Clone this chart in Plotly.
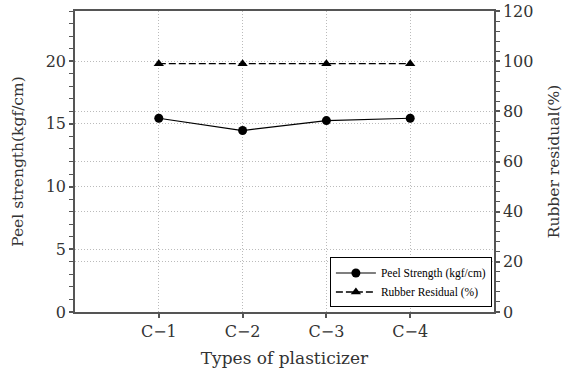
import plotly.graph_objects as go

categories = ["C\u22121", "C\u22122", "C\u22123", "C\u22124"]
peel_strength = [15.45, 14.47, 15.26, 15.45]
rubber_residual = [99.0, 99.0, 99.0, 99.0]

FONT = "DejaVu Serif"
LFONT = "Liberation Serif"
TXT = "#333333"
AX = "#555555"
GRID = "#bbbbbb"

fig = go.Figure()
fig.add_trace(go.Scatter(
    x=categories, y=peel_strength, name="Peel Strength (kgf/cm)",
    mode="lines+markers", line=dict(color="black", width=1.2),
    marker=dict(symbol="circle", size=9, color="black"), yaxis="y"))
fig.add_trace(go.Scatter(
    x=categories, y=rubber_residual, name="Rubber Residual (%)",
    mode="lines+markers", line=dict(color="black", width=1.3, dash="7px,3px"),
    marker=dict(symbol="triangle-up", size=9, color="black"), yaxis="y2"))

fig.update_layout(
    width=563, height=374,
    margin=dict(l=75, r=69, t=11, b=62, autoexpand=False),
    paper_bgcolor="white", plot_bgcolor="white",
    font=dict(family=FONT, color=TXT, size=16),
    showlegend=True,
    legend=dict(x=0.995, y=0.015, xanchor="right", yanchor="bottom",
                bordercolor="black", borderwidth=1, bgcolor="white",
                font=dict(family=LFONT, size=11.5, color="black"),
                tracegroupgap=0, itemwidth=40,
                entrywidth=180, entrywidthmode="pixels"),
    xaxis=dict(
        type="category", range=[-1, 4], automargin=False,
        showline=True, linecolor=AX, linewidth=1.5, mirror=True,
        ticks="outside", ticklen=4, tickcolor=AX, tickwidth=1.5,
        showgrid=True, gridcolor=GRID, griddash="1px,2px", gridwidth=1,
        tickfont=dict(size=16, family=FONT, color=TXT),
        title=dict(text="Types of plasticizer", font=dict(size=17, family=FONT, color=TXT), standoff=12),
        zeroline=False),
    yaxis=dict(
        range=[0, 24], tickvals=[0, 5, 10, 15, 20], automargin=False,
        showline=True, linecolor=AX, linewidth=1.5,
        ticks="outside", ticklen=4, tickcolor=AX, tickwidth=1.5,
        minor=dict(dtick=1, ticks="outside", ticklen=4, tickcolor=AX, tickwidth=1.2, showgrid=False),
        showgrid=True, gridcolor=GRID, griddash="1px,2px", gridwidth=1,
        tickfont=dict(size=16, family=FONT, color=TXT),
        title=dict(text="Peel strength(kgf/cm)", font=dict(size=15.5, family=FONT, color=TXT), standoff=18),
        zeroline=False),
    yaxis2=dict(
        range=[0, 120], tickvals=[0, 20, 40, 60, 80, 100, 120], automargin=False,
        overlaying="y", side="right",
        showline=True, linecolor=AX, linewidth=1.5,
        ticks="outside", ticklen=4, tickcolor=AX, tickwidth=1.5,
        minor=dict(dtick=4, ticks="outside", ticklen=4, tickcolor=AX, tickwidth=1.2, showgrid=False),
        showgrid=True, gridcolor=GRID, griddash="1px,2px", gridwidth=1,
        tickfont=dict(size=16, family=FONT, color=TXT),
        title=dict(text="Rubber residual(%)", font=dict(size=15.5, family=FONT, color=TXT), standoff=16),
        zeroline=False),
)

fig.write_html("out.html")
